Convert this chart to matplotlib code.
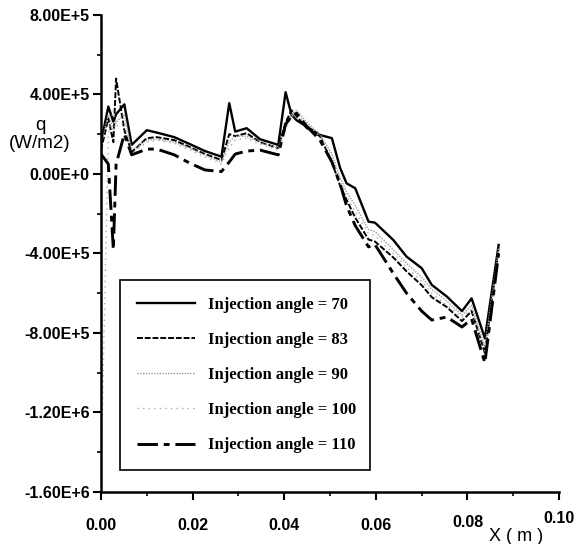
import matplotlib
matplotlib.use("Agg")
import matplotlib.pyplot as plt
import numpy as np

# wall position (m), shared by all cases
x = [0.0, 0.0016, 0.0027, 0.0033, 0.0051, 0.0067, 0.010, 0.0122, 0.016, 0.0194,
     0.0227, 0.0263, 0.028, 0.0293, 0.0318, 0.0347, 0.0387, 0.0403, 0.0416, 0.0427,
     0.0449, 0.0478, 0.0504, 0.0522, 0.0536, 0.0555, 0.0584, 0.0598, 0.0638, 0.0667,
     0.070, 0.0722, 0.0755, 0.0788, 0.0809, 0.0838, 0.0868]

# heat flux, in units of 1E+5 W/m2
q70 = [1.56, 3.39, 2.63, 3.0, 3.5, 1.46, 2.2, 2.08, 1.85, 1.5,
       1.15, 0.87, 3.56, 2.13, 2.3, 1.75, 1.46, 4.11, 2.97, 2.7,
       2.38, 1.96, 1.8, 0.3, -0.47, -0.72, -2.4, -2.45, -3.32, -4.16,
       -4.74, -5.58, -6.17, -6.9, -6.26, -8.27, -3.57]
q83 = [1.2, 2.8, 1.6, 4.8, 2.2, 1.1, 1.8, 1.85, 1.7, 1.35,
       1.0, 0.7, 2.0, 1.9, 2.05, 1.6, 1.3, 2.6, 3.2, 2.9,
       2.3, 1.9, 0.6, -0.6, -1.3, -2.2, -3.3, -3.4, -4.2, -4.9,
       -5.6, -6.2, -6.7, -7.4, -6.9, -9.0, -3.8]
q90 = [1.4, 3.0, 2.2, 2.6, 3.0, 1.2, 1.7, 1.75, 1.6, 1.3,
       0.95, 0.6, 1.6, 1.9, 1.9, 1.6, 1.3, 2.4, 3.0, 3.2,
       2.6, 2.0, 1.0, -0.2, -0.9, -1.6, -2.8, -2.9, -3.8, -4.5,
       -5.2, -5.8, -6.4, -7.1, -6.6, -8.7, -3.7]
q100 = [-15.5, 2.0, 3.2, 2.4, 2.6, 1.0, 1.6, 1.7, 1.55, 1.2,
        0.85, 0.5, 1.3, 1.7, 1.8, 1.5, 1.2, 2.2, 2.9, 3.0,
        2.5, 1.9, 0.8, -0.4, -1.1, -1.9, -3.0, -3.1, -4.0, -4.7,
        -5.4, -6.0, -6.6, -7.2, -6.8, -8.9, -3.9]
q110 = [1.0, 0.5, -3.8, 0.5, 2.0, 0.96, 1.25, 1.25, 0.96, 0.54,
        0.2, 0.12, 0.6, 1.0, 1.15, 1.2, 0.96, 2.5, 2.9, 3.05,
        2.4, 1.7, 0.6, -0.5, -1.6, -2.6, -3.67, -3.55, -5.0, -6.0,
        -6.9, -7.35, -7.2, -7.7, -7.3, -9.5, -4.0]

angles = [70, 83, 90, 100, 110]

yticks = [8e5, 4e5, 0, -4e5, -8e5, -1.2e6, -1.6e6]
ytick_labels = ["8.00E+5", "4.00E+5", "0.00E+0", "-4.00E+5", "-8.00E+5", "-1.20E+6", "-1.60E+6"]
xticks = [0.0, 0.02, 0.04, 0.06, 0.08, 0.10]
xtick_labels = ["0.00", "0.02", "0.04", "0.06", "0.08", "0.10"]

fig = plt.figure(figsize=(5.77, 5.44), dpi=100)
ax = fig.add_axes([0.175, 0.0956, 0.794, 0.877])

styles = [
    dict(color="black", lw=1.7, ls="-"),
    dict(color="black", lw=1.4, ls=(0, (3, 1))),
    dict(color="#999999", lw=1.0, ls=(0, (1, 1))),
    dict(color="#aaaaaa", lw=1.0, ls=(0, (1, 3))),
    dict(color="black", lw=2.1, ls=(0, (7, 2, 2, 2))),
]
series = [q70, q83, q90, q100, q110]
for q, ang, st in zip(series, angles, styles):
    ax.plot(x, np.array(q) * 1e5, label=f"Injection angle = {ang}", **st)

ax.set_xlim(0, 0.10)
ax.set_ylim(-1.6e6, 8e5)
ax.set_yticks(yticks)
ax.set_yticklabels(ytick_labels)
ax.set_yticks(np.arange(-1.6e6, 8.01e5, 2e5), minor=True)
ax.set_xticks(xticks)
ax.set_xticklabels(xtick_labels)
ax.set_xticks(np.arange(0, 0.101, 0.01), minor=True)

for s in ["top", "right"]:
    ax.spines[s].set_visible(False)
for s in ["left", "bottom"]:
    ax.spines[s].set_linewidth(1.8)

ax.tick_params(which="major", direction="out", length=6, width=1.5)
ax.tick_params(axis="y", which="major", pad=2)
ax.tick_params(axis="x", which="major", pad=13)
ax.tick_params(which="minor", direction="out", length=3, width=1.2)
for lab in ax.get_xticklabels() + ax.get_yticklabels():
    lab.set_fontfamily("Liberation Sans")
    lab.set_fontweight("bold")
    lab.set_fontsize(11.5)
# the last two x labels sit a little higher in the original
xl = ax.get_xticklabels()
xl[-2].set_y(0.007)
xl[-1].set_y(0.015)

ax.text(-0.133, 0.75, "q\n(W/m2)", transform=ax.transAxes, ha="center", va="center",
        fontsize=13.5, family="Liberation Sans", linespacing=1.05)
ax.text(0.905, -0.093, "X ( m )", transform=ax.transAxes, ha="center", va="center",
        fontsize=13, family="Liberation Sans")

leg = ax.legend(loc="lower left", bbox_to_anchor=(0.0415, 0.046, 0.546, 0.413),
                mode="expand", borderaxespad=0, fancybox=False, edgecolor="black",
                framealpha=1, handlelength=3.5, handletextpad=0.8, labelspacing=1.15,
                borderpad=1.0,
                prop={"family": "Liberation Serif", "weight": "bold", "size": 12})
leg.get_frame().set_linewidth(1.2)

fig.savefig("out.png", dpi=100)
